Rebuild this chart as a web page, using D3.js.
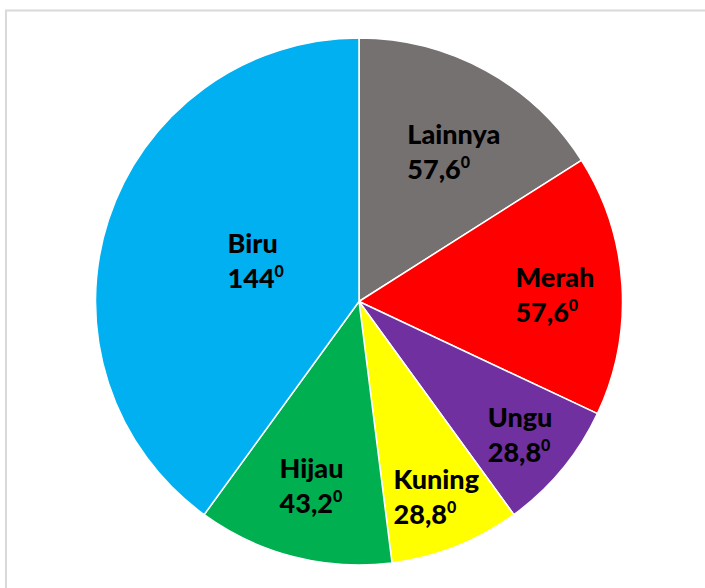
<!DOCTYPE html>
<html>
<head>
<meta charset="utf-8">
<script src="https://cdn.jsdelivr.net/npm/d3@7"></script>
<style>
  html, body { margin: 0; padding: 0; background: #fff; overflow: hidden; }
  svg { display: block; }
  .lbl { font-family: Lato, "Open Sans", sans-serif; font-weight: 900; fill: #000; }
</style>
</head>
<body>
<div id="chart"></div>
<script>
// data
const categories = ['Lainnya', 'Merah', 'Ungu', 'Kuning', 'Hijau', 'Biru'];
const degrees = [57.6, 57.6, 28.8, 28.8, 43.2, 144];
const valueLabels = ['57,6', '57,6', '28,8', '28,8', '43,2', '144'];
const colors = ['#767171', '#ff0000', '#7030a0', '#ffff00', '#00b050', '#00b0f0'];

// where excel put each label (radius from centre, small angle nudge in degrees)
const labelLayout = {
    Lainnya: { r: 177, da: 3.6 },
    Merah: { r: 196, da: 1.8 },
    Ungu: { r: 209, da: 0 },
    Kuning: { r: 210, da: 0 },
    Hijau: { r: 191, da: 0 },
    Biru: { r: 111, da: 3.5 }
};

const width = 705, height = 588;
const cx = 359, cy = 301.5, radius = 263.5;
const fs = 27;

const svg = d3.select('#chart').append('svg')
    .attr('width', width)
    .attr('height', height);

// chart area frame
svg.append('rect')
    .attr('x', 6)
    .attr('y', 10.5)
    .attr('width', width + 20)
    .attr('height', height + 20)
    .attr('fill', 'none')
    .attr('stroke', '#d9d9d9')
    .attr('stroke-width', 2);

const data = categories.map((c, i) => ({ name: c, value: degrees[i], text: valueLabels[i], color: colors[i] }));

const pie = d3.pie().sort(null).value(d => d.value);
const arc = d3.arc().innerRadius(0).outerRadius(radius);
const arcs = pie(data);

const g = svg.append('g').attr('transform', `translate(${cx},${cy})`);

g.selectAll('path.slice')
    .data(arcs)
    .enter()
    .append('path')
    .attr('class', 'slice')
    .attr('d', arc)
    .attr('fill', d => d.data.color)
    .attr('stroke', '#fff')
    .attr('stroke-width', 1.5);

// labels: two lines, left aligned, block centred on label point
const labels = g.selectAll('g.label')
    .data(arcs)
    .enter()
    .append('g')
    .attr('class', 'label');

labels.each(function (d) {
    const lay = labelLayout[d.data.name];
    const mid = (d.startAngle + d.endAngle) / 2 + lay.da * Math.PI / 180;
    const la = d3.arc().innerRadius(lay.r).outerRadius(lay.r);
    const pos = la.centroid({ startAngle: mid, endAngle: mid });

    const sel = d3.select(this);
    sel.append('text').attr('class', 'lbl').style('font-size', fs + 'px')
        .attr('x', 0).attr('y', 0).text(d.data.name);
    const t2 = sel.append('text').attr('class', 'lbl').style('font-size', fs + 'px')
        .attr('x', 0).attr('y', 35);
    t2.append('tspan').text(d.data.text);
    t2.append('tspan').style('font-size', '16px').attr('dy', -11).text('0');

    const bb = this.getBBox();
    // cap top of first line to baseline of second line is the block
    const capTop = -19;
    const blockH = 35 - capTop;
    sel.attr('transform', `translate(${pos[0] - bb.width / 2},${pos[1] - blockH / 2 - capTop})`);
});
</script>
</body>
</html>
